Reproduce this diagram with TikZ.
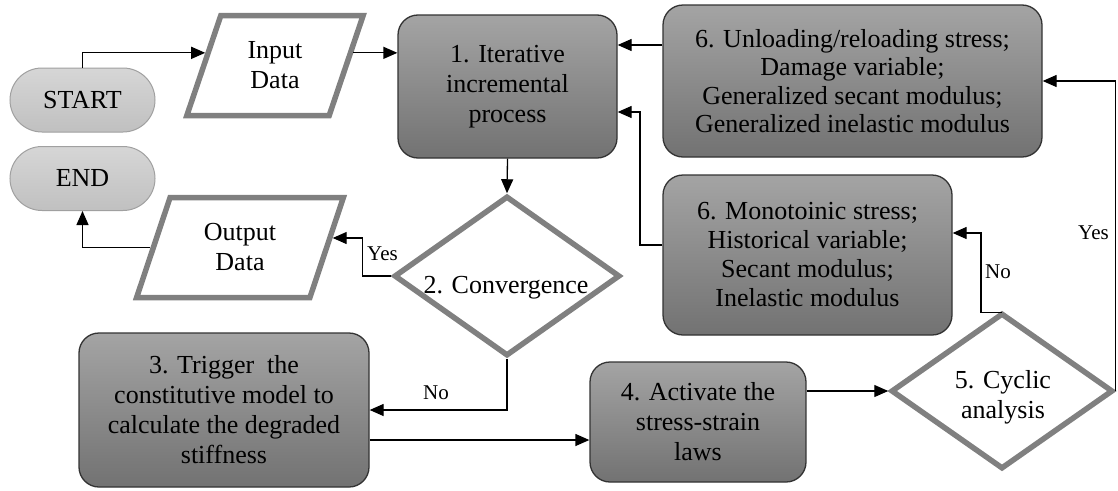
\documentclass[tikz,border=0pt]{standalone}
\usepackage{fontspec}
\setmainfont{Liberation Serif}
\usetikzlibrary{shapes.geometric,arrows.meta}
\definecolor{boxtop}{HTML}{A4A4A4}
\definecolor{boxbot}{HTML}{727272}
\definecolor{boxline}{HTML}{333333}
\definecolor{pilltop}{HTML}{D6D6D6}
\definecolor{pillbot}{HTML}{C0C0C0}
\definecolor{pillline}{HTML}{A0A0A0}
\definecolor{iogray}{HTML}{808080}
\begin{document}
\begin{tikzpicture}[x=1pt,y=-1pt,
  mainfont/.style={font=\fontsize{26}{30}\selectfont},
  procbox/.style={draw=boxline, line width=1.3pt, rounded corners=20pt,
    top color=boxtop, bottom color=boxbot, shading=axis, align=center,
    inner sep=0pt, mainfont},
  pill/.style={draw=pillline, line width=1pt, rounded corners=32pt,
    top color=pilltop, bottom color=pillbot, shading=axis, inner sep=0pt,
    minimum width=145pt, minimum height=64pt, mainfont},
  iobox/.style={trapezium, trapezium left angle=70, trapezium right angle=110,
    trapezium stretches=true, draw=iogray, line width=5.5pt, fill=white,
    inner sep=0pt, align=center, mainfont},
  dia/.style={diamond, draw=iogray, line width=5.5pt, fill=white, inner sep=0pt},
  txt/.style={align=center, inner sep=0pt, mainfont},
  lbl/.style={font=\fontsize{21}{24}\selectfont, inner sep=0pt, anchor=west},
  arr/.style={-{Triangle[length=14pt,width=12pt]}, line width=1.3pt, black}
]
\useasboundingbox (0,0) rectangle (1118,490);

% terminals
\node[pill] (start) at (82.5,100) {START};
\node[pill] (end) at (82.5,178.5) {END};

% input / output
\node[iobox, minimum width=178pt, minimum height=100pt] (in) at (275,65.5) {Input\\Data};
\node[iobox, minimum width=207pt, minimum height=100pt] (out) at (240,247.5) {Output\\Data};

% process boxes
\node[procbox, minimum width=219pt, minimum height=143pt] (b1) at (507.5,86.5)
  {1. Iterative\\incremental\\process};
\node[procbox, minimum width=379pt, minimum height=152pt,
  font=\fontsize{26}{28.5}\selectfont] (b6t) at (852.5,81)
  {6. Unloading/reloading stress;\\Damage variable;\\Generalized secant modulus;\\Generalized inelastic modulus};
\node[procbox, minimum width=289pt, minimum height=160pt,
  font=\fontsize{26}{29}\selectfont] (b6b) at (807.5,255)
  {6. Monotoinic stress;\\Historical variable;\\Secant modulus;\\Inelastic modulus};
\node[procbox, minimum width=290pt, minimum height=154pt] (b3) at (224,410)
  {3. Trigger\ \ the\\constitutive model to\\calculate the degraded\\stiffness};
\node[procbox, minimum width=216pt, minimum height=120pt] (b4) at (698,422)
  {4. Activate the\\stress-strain\\laws};

% decisions
\node[dia, minimum width=226pt, minimum height=160pt] (d2) at (507,276) {};
\node[txt] (d2t) at (506,288) {2. Convergence};
\node[dia, minimum width=222pt, minimum height=156pt] (d5) at (1002,391) {};
\node[txt] (d5t) at (1003,397) {5. Cyclic\\analysis};

% edge points on the slanted sides
\path (in.bottom left corner) -- (in.top left corner) coordinate[pos=0.62] (inL);
\path (in.bottom right corner) -- (in.top right corner) coordinate[pos=0.62] (inR);
\path (out.bottom right corner) -- (out.top right corner) coordinate[pos=0.59] (outR);
\path (out.bottom left corner) -- (out.top left corner) coordinate[pos=0.5] (outL);

% connectors
\draw[arr] (start.north) |- (inL);
\draw[arr] (inR) -- (b1.west |- inR);
\draw[arr] (b1.south) -- (d2.north);
\draw[arr] (d2.west) -- ++(-29,0) |- (outR);
\node[lbl] (yes2) at (367,254) {Yes};
\draw[arr] (outL) -| (end.south);
\draw[arr] (d2.south) |- (b3.east);
\node[lbl] (no2) at (423,393) {No};
\draw[arr] (b3.east |- 0,440) -- (b4.west |- 0,440);
\draw[arr] (b4.east |- d5.west) -- (d5.west);
\draw[arr] (d5.east) |- (b6t.east);
\node[lbl] (yes5) at (1078,233) {Yes};
\draw[arr] ([yshift=-2pt]d5.north) -- ++(-21,0) |- (b6b.east |- 0,233);
\node[lbl] (no5) at (985,272) {No};
\draw[arr] (b6t.west |- 0,45) -- (b1.east |- 0,45);
\draw[arr] (b6b.west |- 0,245) -| (640,112) -- (b1.east |- 0,112);
\end{tikzpicture}
\end{document}
